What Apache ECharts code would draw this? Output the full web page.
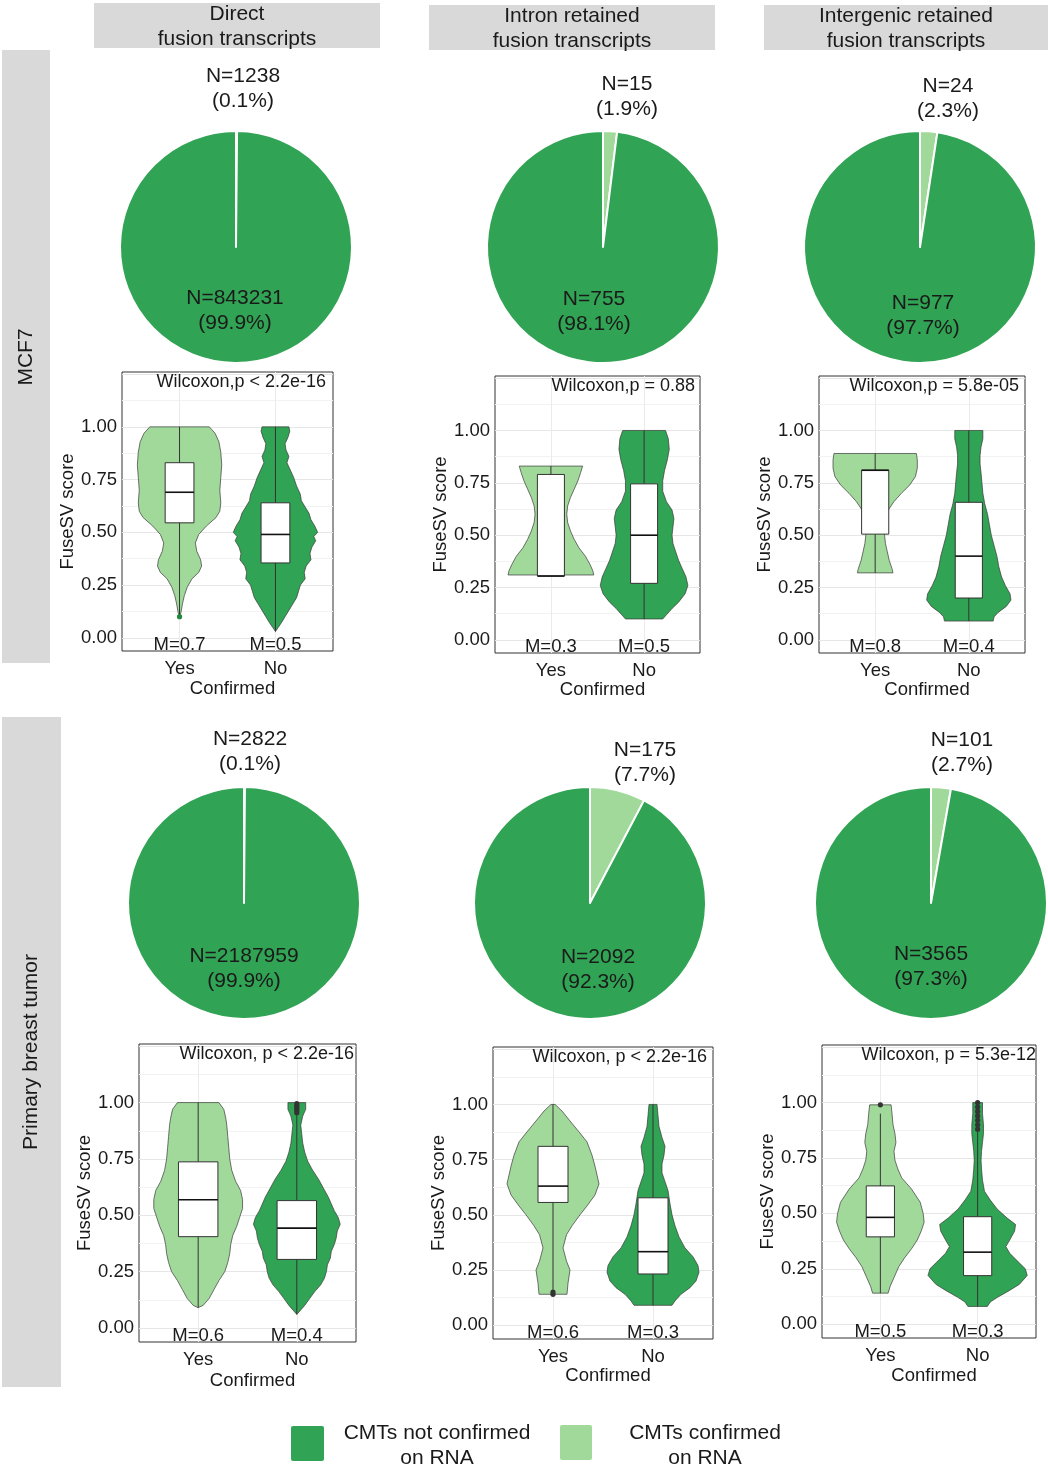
<!DOCTYPE html>
<html>
<head>
<meta charset="utf-8">
<script src="https://cdn.jsdelivr.net/npm/echarts/dist/echarts.min.js"></script>
<style>
  html, body { margin: 0; padding: 0; background: #fff; }
  #main { width: 1048px; height: 1470px; }
</style>
</head>
<body>
<div id="main"></div>
<script>
// ---- data ----
const columnTitles = ['Direct\nfusion transcripts', 'Intron retained\nfusion transcripts', 'Intergenic retained\nfusion transcripts'];
const rowTitles = ['MCF7', 'Primary breast tumor'];
const legendLabels = ['CMTs not confirmed\non RNA', 'CMTs confirmed\non RNA'];
const groups = ['Yes', 'No'];

// pies: MCF7 direct, intron, intergenic, primary direct, intron, intergenic
const pieConfirmedN = [1238, 15, 24, 2822, 175, 101];
const pieNotN = [843231, 755, 977, 2187959, 2092, 3565];
const pieConfirmedPct = ['0.1%', '1.9%', '2.3%', '0.1%', '7.7%', '2.7%'];
const pieNotPct = ['99.9%', '98.1%', '97.7%', '99.9%', '92.3%', '97.3%'];

// violin outlines: [score, half width]
const mcf7DirectYes = [[1.00,0.31],[0.97,0.37],[0.93,0.41],[0.88,0.43],[0.82,0.44],[0.76,0.43],[0.70,0.42],[0.64,0.43],[0.60,0.42],[0.57,0.38],[0.53,0.28],[0.49,0.20],[0.45,0.165],[0.41,0.18],[0.37,0.22],[0.34,0.23],[0.31,0.20],[0.28,0.13],[0.24,0.08],[0.20,0.05],[0.16,0.03],[0.12,0.015],[0.10,0.0]];
const mcf7DirectNo = [[1.00,0.14],[0.98,0.15],[0.95,0.13],[0.92,0.10],[0.89,0.11],[0.86,0.14],[0.83,0.12],[0.80,0.15],[0.76,0.19],[0.72,0.22],[0.68,0.26],[0.65,0.27],[0.62,0.31],[0.59,0.35],[0.56,0.37],[0.53,0.41],[0.50,0.44],[0.48,0.40],[0.46,0.42],[0.43,0.38],[0.40,0.36],[0.37,0.37],[0.34,0.32],[0.31,0.30],[0.28,0.31],[0.25,0.26],[0.22,0.24],[0.19,0.22],[0.16,0.18],[0.13,0.14],[0.10,0.10],[0.07,0.06],[0.05,0.03],[0.03,0.0]];
const mcf7IntronYes = [[0.83,0.34],[0.80,0.32],[0.76,0.29],[0.72,0.25],[0.68,0.21],[0.64,0.18],[0.60,0.17],[0.56,0.18],[0.52,0.21],[0.48,0.25],[0.44,0.30],[0.40,0.37],[0.36,0.42],[0.33,0.45],[0.31,0.46]];
const mcf7IntronNo = [[1.00,0.23],[0.96,0.26],[0.91,0.27],[0.86,0.25],[0.81,0.22],[0.76,0.20],[0.71,0.20],[0.66,0.24],[0.62,0.30],[0.58,0.32],[0.54,0.31],[0.50,0.30],[0.46,0.31],[0.42,0.34],[0.38,0.37],[0.34,0.41],[0.30,0.45],[0.26,0.47],[0.22,0.44],[0.18,0.37],[0.15,0.30],[0.12,0.24],[0.10,0.20]];
const mcf7InterYes = [[0.89,0.44],[0.86,0.45],[0.82,0.45],[0.78,0.43],[0.74,0.37],[0.70,0.28],[0.66,0.20],[0.62,0.14],[0.58,0.11],[0.54,0.10],[0.50,0.10],[0.46,0.11],[0.42,0.13],[0.38,0.15],[0.34,0.18],[0.32,0.19]];
const mcf7InterNo = [[1.00,0.15],[0.96,0.15],[0.92,0.13],[0.88,0.12],[0.84,0.12],[0.80,0.13],[0.75,0.14],[0.70,0.15],[0.65,0.17],[0.60,0.20],[0.55,0.22],[0.50,0.24],[0.45,0.27],[0.40,0.30],[0.35,0.32],[0.30,0.35],[0.26,0.39],[0.22,0.44],[0.19,0.45],[0.16,0.40],[0.13,0.31],[0.11,0.27],[0.09,0.26]];
const primDirectYes = [[1.00,0.21],[0.97,0.26],[0.93,0.28],[0.90,0.29],[0.85,0.30],[0.80,0.31],[0.75,0.32],[0.70,0.34],[0.65,0.38],[0.61,0.43],[0.57,0.45],[0.53,0.45],[0.49,0.42],[0.45,0.39],[0.41,0.35],[0.37,0.33],[0.33,0.32],[0.29,0.30],[0.25,0.27],[0.21,0.21],[0.17,0.16],[0.13,0.11],[0.10,0.05],[0.09,0.0]];
const primDirectNo = [[1.00,0.09],[0.97,0.09],[0.94,0.06],[0.90,0.04],[0.86,0.05],[0.82,0.06],[0.78,0.08],[0.74,0.11],[0.70,0.16],[0.66,0.22],[0.62,0.27],[0.58,0.32],[0.55,0.35],[0.52,0.38],[0.49,0.42],[0.46,0.44],[0.43,0.41],[0.40,0.40],[0.37,0.38],[0.34,0.35],[0.31,0.34],[0.28,0.31],[0.25,0.30],[0.22,0.28],[0.19,0.24],[0.16,0.18],[0.13,0.13],[0.10,0.08],[0.08,0.04],[0.06,0.0]];
const primIntronYes = [[1.00,0.02],[0.97,0.09],[0.925,0.17],[0.87,0.27],[0.83,0.34],[0.77,0.39],[0.72,0.42],[0.64,0.46],[0.59,0.42],[0.54,0.34],[0.50,0.27],[0.45,0.19],[0.41,0.135],[0.35,0.10],[0.29,0.135],[0.25,0.17],[0.19,0.15],[0.14,0.14]];
const primIntronNo = [[1.00,0.04],[0.95,0.05],[0.90,0.06],[0.85,0.09],[0.81,0.12],[0.77,0.11],[0.73,0.09],[0.69,0.09],[0.65,0.12],[0.61,0.15],[0.55,0.17],[0.50,0.19],[0.45,0.22],[0.40,0.26],[0.35,0.32],[0.31,0.40],[0.27,0.45],[0.24,0.46],[0.20,0.43],[0.17,0.37],[0.14,0.28],[0.11,0.22],[0.09,0.19]];
const primInterYes = [[0.99,0.11],[0.95,0.12],[0.90,0.13],[0.86,0.15],[0.82,0.16],[0.78,0.14],[0.74,0.15],[0.70,0.18],[0.66,0.22],[0.61,0.32],[0.55,0.41],[0.50,0.44],[0.46,0.45],[0.42,0.42],[0.38,0.38],[0.34,0.32],[0.30,0.25],[0.26,0.19],[0.21,0.14],[0.17,0.10],[0.14,0.08]];
const primInterNo = [[1.00,0.05],[0.95,0.05],[0.90,0.06],[0.86,0.06],[0.82,0.05],[0.78,0.04],[0.74,0.035],[0.70,0.04],[0.65,0.05],[0.60,0.07],[0.56,0.13],[0.52,0.20],[0.48,0.30],[0.45,0.39],[0.42,0.38],[0.38,0.33],[0.35,0.29],[0.32,0.33],[0.28,0.42],[0.25,0.49],[0.22,0.51],[0.18,0.43],[0.15,0.32],[0.12,0.20],[0.10,0.13],[0.08,0.10]];

// box stats per group: [lower whisker, q1, median, q3, upper whisker]
const mcf7DirectBox = [[0.10, 0.545, 0.69, 0.83, 1.00], [0.03, 0.355, 0.49, 0.64, 1.00]];
const mcf7IntronBox = [[0.31, 0.305, 0.305, 0.79, 0.83], [0.10, 0.27, 0.50, 0.745, 1.00]];
const mcf7InterBox = [[0.32, 0.505, 0.81, 0.81, 0.89], [0.09, 0.20, 0.40, 0.657, 1.00]];
const primDirectBox = [[0.09, 0.405, 0.569, 0.737, 1.00], [0.06, 0.304, 0.443, 0.565, 0.95]];
const primIntronBox = [[0.16, 0.556, 0.63, 0.81, 1.00], [0.09, 0.232, 0.333, 0.577, 1.00]];
const primInterBox = [[0.14, 0.394, 0.482, 0.624, 0.95], [0.08, 0.219, 0.325, 0.485, 0.87]];

// outliers: [group index, score]
const mcf7DirectOut = [[0, 0.10]];
const mcf7IntronOut = [];
const mcf7InterOut = [];
const primDirectOut = [[1, 0.955], [1, 0.965], [1, 0.975], [1, 0.985], [1, 0.995]];
const primIntronOut = [[0, 0.14], [0, 0.15]];
const primInterOut = [[0, 0.99], [1, 0.88], [1, 0.90], [1, 0.92], [1, 0.94], [1, 0.96], [1, 0.98], [1, 1.0]];

const medianLabels = [['M=0.7', 'M=0.5'], ['M=0.3', 'M=0.5'], ['M=0.8', 'M=0.4'], ['M=0.6', 'M=0.4'], ['M=0.6', 'M=0.3'], ['M=0.5', 'M=0.3']];
const wilcoxonLabels = ['Wilcoxon,p < 2.2e-16', 'Wilcoxon,p = 0.88', 'Wilcoxon,p = 5.8e-05', 'Wilcoxon, p < 2.2e-16', 'Wilcoxon, p < 2.2e-16', 'Wilcoxon, p = 5.3e-12'];

const violins = [[mcf7DirectYes, mcf7DirectNo], [mcf7IntronYes, mcf7IntronNo], [mcf7InterYes, mcf7InterNo],
                 [primDirectYes, primDirectNo], [primIntronYes, primIntronNo], [primInterYes, primInterNo]];
const boxStats = [mcf7DirectBox, mcf7IntronBox, mcf7InterBox, primDirectBox, primIntronBox, primInterBox];
const outliers = [mcf7DirectOut, mcf7IntronOut, mcf7InterOut, primDirectOut, primIntronOut, primInterOut];

// ---- layout / style ----
const FONT = 'Liberation Sans, Arial, sans-serif';
const TXT = '#1a1a1a';
const green = '#31a354', lightGreen = '#a1d99b';
const pieCenters = [[236, 247], [603, 247], [920, 247], [244, 903], [590, 903], [931, 903]];
const pieRadius = 116;
const smallLabelPos = [[243, 89], [627, 97], [948, 99], [250, 752], [645, 763], [962, 753]];
const bigLabelPos = [[235, 311], [594, 312], [923, 316], [244, 969], [598, 970], [931, 967]];
// [left, top, width, height]
const panelRects = [[122, 372, 211, 279], [495, 376, 205, 277], [819, 376, 206, 277],
                    [139, 1044, 217, 298], [493, 1047, 220, 292], [822, 1045, 214, 293]];
const xNameGaps = [28, 24, 24, 29, 27, 28];
const wilcoxonRightPad = [7, 5, 6, 2, 6, 0];
const boxHalfWidth = [0.15, 0.145, 0.145, 0.2, 0.15, 0.145];
const outlierColor = ['#1f8a3d', '#333', '#333', '#333', '#333', '#333'];

const chart = echarts.init(document.getElementById('main'), null, { renderer: 'canvas' });

function violinRenderer(p) {
  return function (params, api) {
    const g = params.dataIndex;
    const cx = g + 1;
    const prof = violins[p][g];
    const right = prof.map(d => api.coord([cx + d[1], d[0]]));
    const left = prof.slice().reverse().map(d => api.coord([cx - d[1], d[0]]));
    const st = boxStats[p][g];
    const hw = boxHalfWidth[p];
    const a = api.coord([cx - hw, st[3]]);
    const b = api.coord([cx + hw, st[1]]);
    const top = api.coord([cx, st[4]]);
    const bot = api.coord([cx, st[0]]);
    const med = api.coord([cx, st[2]]);
    const children = [
      { type: 'polygon', shape: { points: right.concat(left) },
        style: { fill: g === 0 ? lightGreen : green, stroke: '#3a3a3a', lineWidth: 0.7 } },
      { type: 'line', shape: { x1: top[0], y1: top[1], x2: bot[0], y2: bot[1] },
        style: { stroke: '#333', lineWidth: 1 } },
      { type: 'rect', shape: { x: a[0], y: a[1], width: b[0] - a[0], height: b[1] - a[1] },
        style: { fill: '#fff', stroke: '#333', lineWidth: 1 } },
      { type: 'line', shape: { x1: a[0], y1: med[1], x2: b[0], y2: med[1] },
        style: { stroke: '#111', lineWidth: 1.6 } }
    ];
    outliers[p].filter(o => o[0] === g).forEach(o => {
      const c = api.coord([cx, o[1]]);
      children.push({ type: 'circle', shape: { cx: c[0], cy: c[1], r: 2.6 }, style: { fill: outlierColor[p] } });
    });
    const m = api.coord([cx, -0.035]);
    children.push({ type: 'text', x: m[0], y: m[1],
      style: { text: medianLabels[p][g], align: 'center', verticalAlign: 'middle', fontSize: 18.5, fontFamily: FONT, fill: TXT } });
    return { type: 'group', children: children };
  };
}

const grids = [], xAxes = [], yAxes = [], series = [], graphics = [];
const clear = 'rgba(0,0,0,0)';

panelRects.forEach((r, p) => {
  grids.push({ left: r[0], top: r[1], width: r[2], height: r[3], show: true,
    borderColor: '#333', borderWidth: 1, backgroundColor: '#fff' });
  xAxes.push({ gridIndex: p, type: 'value', min: 0.4, max: 2.6, interval: 0.2,
    axisLine: { show: false }, axisTick: { show: false },
    axisLabel: { fontSize: 18.5, color: TXT, fontFamily: FONT, margin: 8,
      formatter: v => Math.abs(v - 1) < 1e-6 ? groups[0] : (Math.abs(v - 2) < 1e-6 ? groups[1] : '') },
    splitLine: { show: true, lineStyle: { color: [clear, clear, clear, '#ebebeb', clear], width: 1 } },
    name: 'Confirmed', nameLocation: 'middle', nameGap: xNameGaps[p],
    nameTextStyle: { fontSize: 18.5, color: TXT, fontFamily: FONT, padding: [0, 0, 0, 10] } });
  yAxes.push({ gridIndex: p, type: 'value', min: -0.0625, max: 1.26, interval: 0.0625,
    axisLine: { show: false }, axisTick: { show: false },
    axisLabel: { fontSize: 18.5, color: TXT, fontFamily: FONT, margin: 5,
      formatter: v => (v > -1e-6 && v < 1 + 1e-6 && Math.abs(v * 4 - Math.round(v * 4)) < 1e-6) ? v.toFixed(2) : '' },
    splitLine: { show: true, lineStyle: { color: [clear, '#e6e6e6', clear, '#f2f2f2'], width: 1 } },
    name: 'FuseSV score', nameLocation: 'middle', nameGap: 45,
    nameTextStyle: { fontSize: 18.5, color: TXT, fontFamily: FONT } });
  series.push({ type: 'custom', xAxisIndex: p, yAxisIndex: p, clip: false, silent: true,
    data: groups.map((g, i) => [i + 1, 0]), encode: { x: 0, y: 1 },
    renderItem: violinRenderer(p) });
  graphics.push({ type: 'text', x: r[0] + r[2] - wilcoxonRightPad[p], y: r[1] + 10, z: 100,
    style: { text: wilcoxonLabels[p], align: 'right', verticalAlign: 'middle', fontSize: 18, fontFamily: FONT, fill: TXT } });
});

pieCenters.forEach((c, i) => {
  series.push({ type: 'pie', center: c, radius: pieRadius, startAngle: 90, clockwise: true, silent: true,
    label: { show: false }, labelLine: { show: false },
    itemStyle: { borderColor: '#fff', borderWidth: 2 },
    data: [
      { name: legendLabels[1], value: pieConfirmedN[i], itemStyle: { color: lightGreen } },
      { name: legendLabels[0], value: pieNotN[i], itemStyle: { color: green } }
    ] });
  graphics.push({ type: 'text', x: smallLabelPos[i][0], y: smallLabelPos[i][1], z: 100,
    style: { text: 'N=' + pieConfirmedN[i] + '\n(' + pieConfirmedPct[i] + ')', align: 'center', verticalAlign: 'middle',
      fontSize: 21, lineHeight: 25, fontFamily: FONT, fill: TXT } });
  graphics.push({ type: 'text', x: bigLabelPos[i][0], y: bigLabelPos[i][1], z: 100,
    style: { text: 'N=' + pieNotN[i] + '\n(' + pieNotPct[i] + ')', align: 'center', verticalAlign: 'middle',
      fontSize: 21, lineHeight: 25, fontFamily: FONT, fill: TXT } });
});

// facet strips
const colStrips = [[94, 3, 286, 45], [429, 5, 286, 45], [764, 5, 284, 45]];
colStrips.forEach((s, i) => {
  graphics.push({ type: 'rect', shape: { x: s[0], y: s[1], width: s[2], height: s[3] }, style: { fill: '#d9d9d9' } });
  graphics.push({ type: 'text', x: s[0] + s[2] / 2, y: s[1] + s[3] / 2 + 1,
    style: { text: columnTitles[i], align: 'center', verticalAlign: 'middle', fontSize: 21, lineHeight: 25, fontFamily: FONT, fill: TXT } });
});
const rowStrips = [[2, 50, 48, 613], [2, 717, 59, 670]];
const rowTextPos = [[26, 357], [31, 1052]];
rowStrips.forEach((s, i) => {
  graphics.push({ type: 'rect', shape: { x: s[0], y: s[1], width: s[2], height: s[3] }, style: { fill: '#d9d9d9' } });
  graphics.push({ type: 'text', x: rowTextPos[i][0], y: rowTextPos[i][1], rotation: Math.PI / 2,
    style: { text: rowTitles[i], align: 'center', verticalAlign: 'middle', fontSize: 21, fontFamily: FONT, fill: TXT } });
});

// legend
graphics.push({ type: 'rect', shape: { x: 291, y: 1426, width: 33, height: 35, r: 2 }, style: { fill: green } });
graphics.push({ type: 'text', x: 437, y: 1446,
  style: { text: legendLabels[0], align: 'center', verticalAlign: 'middle', fontSize: 21, lineHeight: 25, fontFamily: FONT, fill: TXT } });
graphics.push({ type: 'rect', shape: { x: 560, y: 1425, width: 32, height: 35, r: 2 }, style: { fill: lightGreen } });
graphics.push({ type: 'text', x: 705, y: 1446,
  style: { text: legendLabels[1], align: 'center', verticalAlign: 'middle', fontSize: 21, lineHeight: 25, fontFamily: FONT, fill: TXT } });

chart.setOption({
  animation: false,
  backgroundColor: '#fff',
  textStyle: { fontFamily: FONT },
  grid: grids,
  xAxis: xAxes,
  yAxis: yAxes,
  series: series,
  graphic: graphics
});
</script>
</body>
</html>
